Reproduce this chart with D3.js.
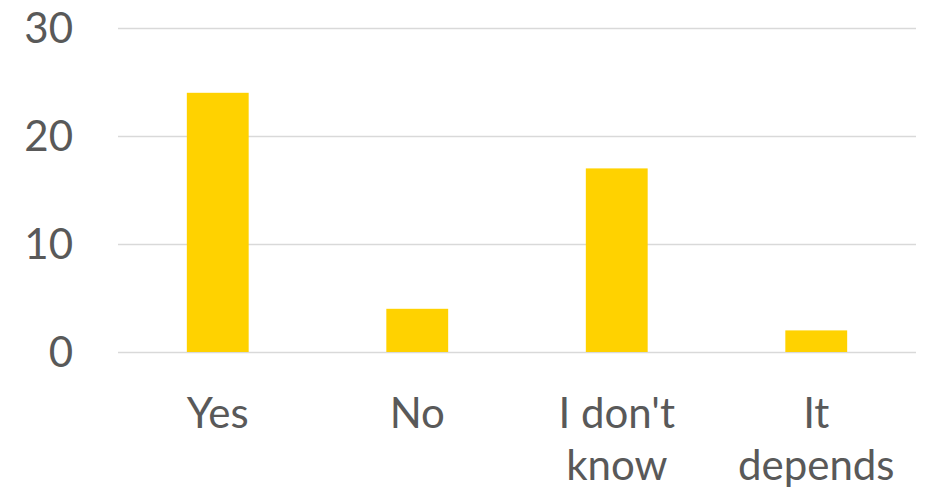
<!DOCTYPE html>
<html><head><meta charset="utf-8">
<script src="https://cdn.jsdelivr.net/npm/d3@7"></script>
<style>html,body{margin:0;padding:0;background:#fff;}</style>
</head><body>
<svg id="chart" width="933" height="492"></svg>
<script>
const categories = ["Yes", "No", "I don't know", "It depends"];
const values = [24, 4, 17, 2];
const yTicks = [0, 10, 20, 30];

const svg = d3.select("#chart");
const m = {left: 118, right: 17, top: 28, bottom: 140};
const W = 933, H = 492;
const x = d3.scaleBand().domain(categories).range([m.left, W - m.right]).paddingInner(0.69).paddingOuter(0.345);
const y = d3.scaleLinear().domain([0, 30]).range([352, 28]);
const font = "Lato, 'Open Sans', sans-serif";

const yAxis = d3.axisLeft(y).tickValues(yTicks).tickSize(-(W - m.right - m.left)).tickPadding(45);
const gy = svg.append("g").attr("transform", `translate(${m.left},0)`).call(yAxis);
gy.select(".domain").remove();
gy.selectAll(".tick line").attr("stroke", "#d9d9d9").attr("stroke-width", 1.5);
gy.selectAll(".tick text").attr("fill", "#595959").style("font-family", font).style("font-size", "42px").attr("dy", "0.35em");

svg.append("g").selectAll("rect").data(categories).join("rect")
  .attr("x", d => x(d)).attr("width", x.bandwidth())
  .attr("y", (d, i) => y(values[i])).attr("height", (d, i) => y(0) - y(values[i]))
  .attr("fill", "#FFD200");

const xAxis = d3.axisBottom(x).tickSize(0).tickPadding(0);
const gx = svg.append("g").attr("transform", `translate(0,${y(0)})`).call(xAxis);
gx.select(".domain").remove();
gx.selectAll(".tick text").each(function(d) {
  const t = d3.select(this);
  const idx = d.lastIndexOf(" ");
  const lines = (idx > 0 && d.length > 6) ? [d.slice(0, idx), d.slice(idx + 1)] : [d];
  t.text(null).attr("fill", "#595959").style("font-family", font).style("font-size", "42px").attr("y", 0).attr("dy", null);
  lines.forEach((l, i) => t.append("tspan").attr("x", 0).attr("y", 76 + i * 52).text(l));
});
</script>
</body></html>
